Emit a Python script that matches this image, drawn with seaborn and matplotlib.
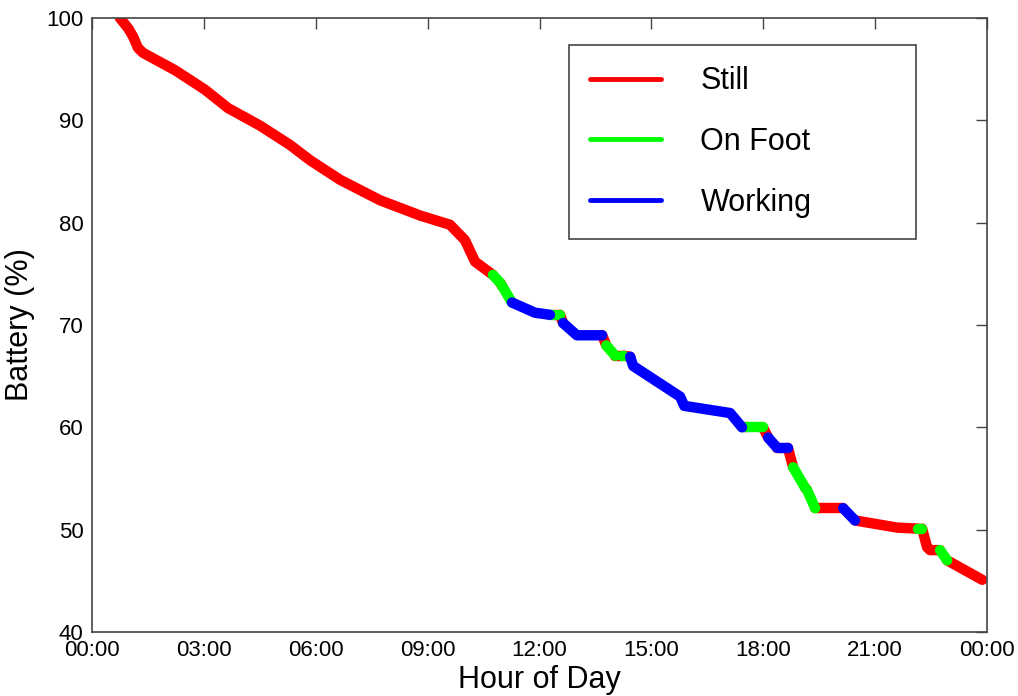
import numpy as np
import pandas as pd
import matplotlib
matplotlib.use('Agg')
import matplotlib.pyplot as plt
import seaborn as sns

# battery trace; activity[i] is the state of the segment i -> i+1
hours = [0.75, 0.97, 1.10, 1.23, 1.37, 2.23, 3.03, 3.65, 4.50, 5.31, 5.85, 6.65,
         7.72, 8.80, 9.60, 10.00, 10.27, 10.75,
         10.95, 11.00, 11.26, 11.88, 12.28, 12.40, 12.50, 12.55, 12.63, 13.00,
         13.68, 13.79, 14.03, 14.21, 14.26, 14.43, 14.51, 15.77, 15.88, 17.11,
         17.43, 17.50, 17.56, 17.99, 18.13, 18.37, 18.45, 18.66, 18.80, 19.12,
         19.17, 19.39, 20.14, 20.46, 21.59, 22.15, 22.26, 22.39, 22.47, 22.74,
         22.93, 23.87]
battery = [100.0, 99.0, 98.2, 97.1, 96.6, 94.9, 93.0, 91.2, 89.5, 87.6, 86.1, 84.2,
           82.2, 80.7, 79.8, 78.3, 76.2, 74.9,
           74.1, 73.8, 72.2, 71.2, 71.0, 71.0, 71.0, 71.0, 70.2, 69.0,
           69.0, 68.0, 67.0, 67.0, 67.0, 66.9, 66.0, 63.0, 62.1, 61.4,
           60.0, 60.0, 60.0, 60.0, 59.0, 58.0, 58.0, 58.0, 56.1, 54.1,
           53.9, 52.1, 52.1, 50.9, 50.2, 50.1, 50.1, 48.3, 48.0, 48.0,
           47.0, 45.1]
activity = (['Still'] * 17 +
            ['On Foot', 'Still', 'On Foot', 'Working', 'Working', 'On Foot', 'Still',
             'On Foot', 'Still', 'Working', 'Working', 'Still', 'On Foot', 'Still',
             'On Foot', 'Still', 'Working', 'Working', 'Working', 'Working', 'Working',
             'On Foot', 'Still', 'On Foot', 'Still', 'Working', 'Still', 'Working',
             'Still', 'On Foot', 'Still', 'On Foot', 'Still', 'Working', 'Still',
             'Still', 'On Foot', 'Still', 'Still', 'Still', 'On Foot', 'Still',
             'Still'])

states = ['Still', 'On Foot', 'Working']
colors = {'Still': '#ff0000', 'On Foot': '#00ff00', 'Working': '#0000ff'}
xtick_labels = ['00:00', '03:00', '06:00', '09:00', '12:00', '15:00', '18:00', '21:00', '00:00']

# split into runs of one state, each run ends on the first point of the next one
rows = []
run = 0
start = 0
for i in range(1, len(hours)):
    if i == len(hours) - 1 or activity[i] != activity[start]:
        for j in range(start, i + 1):
            rows.append((hours[j], battery[j], activity[start], run))
        run += 1
        start = i
df = pd.DataFrame(rows, columns=['hour', 'battery', 'activity', 'run'])

sns.set_style('white')
plt.rcParams['font.family'] = ['Liberation Sans', 'DejaVu Sans']
plt.rcParams['text.color'] = 'black'
plt.rcParams['axes.labelcolor'] = 'black'

fig = plt.figure(figsize=(10.18, 6.96), dpi=100)
ax = fig.add_axes([0.0904, 0.092, 0.8792, 0.882])

sns.lineplot(data=df, x='hour', y='battery', hue='activity', units='run',
             estimator=None, sort=False, hue_order=states, palette=colors,
             linewidth=7.5, ax=ax)
for ln in ax.lines:
    ln.set_solid_capstyle('round')
    ln.set_solid_joinstyle('round')

ax.set_xlim(0, 24)
ax.set_ylim(40, 100)
ax.set_xticks(np.arange(0, 25, 3))
ax.set_xticklabels(xtick_labels)
ax.set_yticks(np.arange(40, 101, 10))
ax.set_xlabel('Hour of Day', fontsize=22, labelpad=3)
ax.set_ylabel('Battery (%)', fontsize=22, labelpad=8)
ax.tick_params(direction='in', length=8, width=1, colors='#444444',
               labelcolor='black', labelsize=16, top=True, right=True, pad=6)
for sp in ax.spines.values():
    sp.set_color('#444444')
    sp.set_linewidth(1.2)

handles, labels = ax.get_legend_handles_labels()
leg = ax.legend(handles, labels, loc='upper left',
                bbox_to_anchor=(0.533, 0.638, 0.388, 0.318), mode='expand',
                borderaxespad=0, fontsize=22, frameon=True, fancybox=False,
                edgecolor='#444444', framealpha=1, borderpad=0.7,
                labelspacing=1.0, handlelength=2.3, handletextpad=1.3)
leg.get_frame().set_linewidth(1.2)
for h in leg.get_lines():
    h.set_linewidth(3.5)

fig.savefig('out.png', dpi=100)
